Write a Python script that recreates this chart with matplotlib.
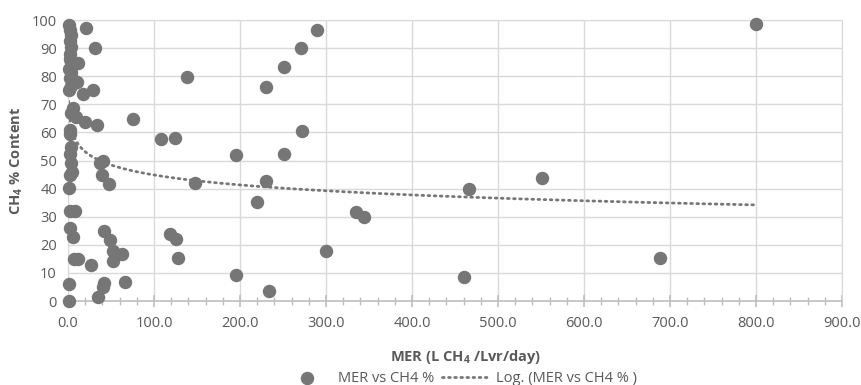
import matplotlib.pyplot as plt
from matplotlib.ticker import MultipleLocator, FormatStrFormatter
import numpy as np

plt.rcParams['font.family'] = ['Open Sans', 'DejaVu Sans']
plt.rcParams['mathtext.default'] = 'regular'

## donnees
mer = [0.6, 2.5, 3.0, 2.0, 3.5, 1.8, 2.5, 4.0, 11.2, 1.5, 3.0, 2.0, 10.0, 5.0,
       0.8, 3.5, 17.0, 28.6, 5.5, 3.0, 9.3, 20.1, 33.7, 75.5, 2.3, 2.0, 3.0,
       2.5, 3.0, 4.5, 2.5, 1.5, 37.2, 41.0, 39.5, 48.0, 2.5, 8.5, 2.0, 6.0,
       41.4, 49.2, 51.9, 62.3, 51.9, 7.3, 11.2, 26.7, 1.5, 1.5, 42.0, 41.0,
       34.5, 66.4, 20.9, 31.7,
       108.3, 124.0, 137.8, 148.0, 118.8, 125.4, 128.0, 195.5, 195.5, 220.3,
       230.0, 230.0, 233.8, 251.3, 251.3, 271.4, 271.8, 290.0, 300.5, 334.5,
       344.2, 461.0, 465.7, 550.6, 688.5, 800.0]
ch4 = [98.2, 96.5, 94.5, 92.5, 90.5, 88.0, 86.0, 85.2, 84.6, 82.5, 81.6, 79.2,
       78.0, 79.0, 75.1, 76.5, 73.6, 75.1, 68.6, 66.8, 65.6, 63.8, 62.6, 64.7,
       60.9, 59.5, 54.9, 52.5, 49.0, 46.0, 44.8, 40.3, 49.0, 50.0, 45.0, 41.6,
       32.2, 32.2, 25.9, 22.9, 25.0, 21.7, 17.9, 16.9, 14.3, 15.1, 15.1, 12.8,
       6.0, 0.0, 6.3, 5.0, 1.5, 6.9, 97.0, 89.9,
       57.6, 57.9, 79.8, 41.9, 24.0, 22.0, 15.5, 51.8, 9.2, 35.3, 76.2, 42.6,
       3.6, 83.2, 52.3, 89.9, 60.6, 96.4, 17.8, 31.8, 30.0, 8.4, 39.9, 43.9,
       15.4, 98.5]

# courbe de tendance log (y = a ln x + b)
trend_a = -5.13
trend_b = 68.5

gris = '#767676'
texte = '#595959'

fig = plt.figure(figsize=(8.62, 3.85), dpi=100)
ax = fig.add_axes([0.0789, 0.218, 0.8979, 0.730])

ax.scatter(mer, ch4, s=75, color=gris, zorder=3, clip_on=False, label='MER vs CH4 %')
t = np.linspace(min(mer), max(mer), 500)
ax.plot(t, trend_a*np.log(t) + trend_b, color=gris, lw=2, ls=(0, (0.6, 1.6)),
        dash_capstyle='round', zorder=2, label='Log. (MER vs CH4 % )')

ax.set_xlim(0, 900)
ax.set_ylim(0, 100)
ax.xaxis.set_major_locator(MultipleLocator(100))
ax.xaxis.set_minor_locator(MultipleLocator(20))
ax.yaxis.set_major_locator(MultipleLocator(10))
ax.xaxis.set_major_formatter(FormatStrFormatter('%.1f'))
ax.grid(True, which='major', color='#d9d9d9', lw=1, zorder=0)
ax.set_axisbelow(True)

for s in ['top', 'right', 'left']:
    ax.spines[s].set_color('#d9d9d9')
ax.spines['bottom'].set_color('#bfbfbf')
ax.spines['bottom'].set_linewidth(1.2)
ax.tick_params(axis='x', which='both', direction='inout', color='#bfbfbf',
               labelsize=10.5, labelcolor=texte)
ax.tick_params(axis='x', which='major', length=8, width=1.2, pad=7)
ax.tick_params(axis='x', which='minor', length=6, width=1)
ax.tick_params(axis='y', length=0, labelsize=10.5, labelcolor=texte, pad=8)

ax.set_ylabel('CH$_4$ % Content', fontsize=10.5, fontweight='bold', color=texte, labelpad=5)
fig.text(0.54, 0.073, 'MER (L CH$_4$ /Lvr/day)', ha='center', va='center',
         fontsize=10.5, fontweight='bold', color=texte)

leg = ax.legend(loc='center', bbox_to_anchor=(0.534, 0.017), bbox_transform=fig.transFigure,
                ncol=2, frameon=False, fontsize=10.5, handlelength=3.2, columnspacing=0.5,
                handletextpad=0.5, borderpad=0)
for txt in leg.get_texts():
    txt.set_color(texte)

plt.savefig('out.png')
